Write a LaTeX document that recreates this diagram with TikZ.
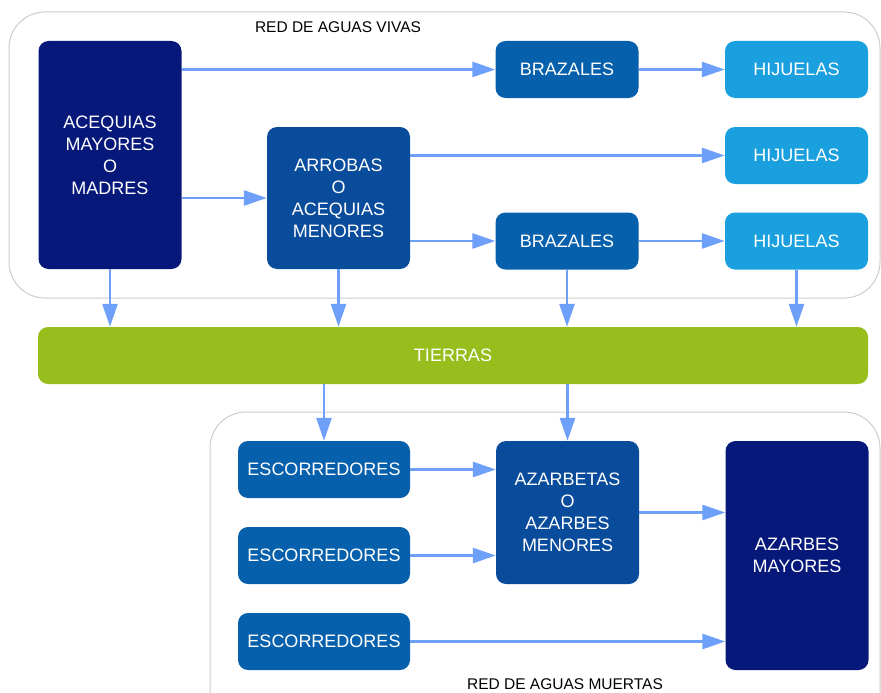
\documentclass[tikz,border=0pt]{standalone}
\usepackage{fontspec}
\setmainfont{Liberation Sans}
\usetikzlibrary{arrows.meta}

\definecolor{madre}{RGB}{6,24,122}
\definecolor{menor}{RGB}{10,76,156}
\definecolor{brazal}{RGB}{6,96,172}
\definecolor{hijuela}{RGB}{26,160,222}
\definecolor{tierra}{RGB}{152,190,30}
\definecolor{flecha}{RGB}{110,160,250}

\tikzset{%
  every canal/.style={
    rounded corners=10pt,
    text=white,
    align=center,
    inner sep=0pt,
    minimum width=143pt,
    minimum height=57pt,
    font=\fontsize{18}{22}\selectfont
  },
  red box/.style={
    draw=gray!40,
    line width=1pt,
    rounded corners=36pt
  },
  red label/.style={
    font=\fontsize{15.5}{18}\selectfont
  },
  flow/.style={
    ->,
    draw=flecha,
    line width=2.7pt
  },
}

\begin{document}
\begin{tikzpicture}[x=1pt, y=-1pt, >={Triangle[length=23pt, width=15pt]}]

    \useasboundingbox (0,0) rectangle (881,693);

    % redes de aguas vivas y muertas
    \draw [red box] (9,12) rectangle (880,298);
    \draw [red box] (210,412) rectangle (880,730);
    \node [red label] (vivas) at (338,27) {RED DE AGUAS VIVAS};
    \node [red label] (muertas) at (565,684) {RED DE AGUAS MUERTAS};

    \node [every canal, fill=madre, minimum height=228pt] (madres) at (110,155)
      {ACEQUIAS\\MAYORES\\O\\MADRES};
    \node [every canal, fill=menor, minimum height=142pt] (arrobas) at (338.5,198)
      {ARROBAS\\O\\ACEQUIAS\\MENORES};

    \foreach \y [count=\i] in {69.5,241}
      \node [every canal, fill=brazal] (brazales-\i) at (567,\y) {BRAZALES};

    \foreach \y [count=\i] in {69.5,155.5,241}
      \node [every canal, fill=hijuela] (hijuelas-\i) at (796.5,\y) {HIJUELAS};

    \node [every canal, fill=tierra, minimum width=830pt] (tierras) at (453,355.5) {TIERRAS};

    \foreach \y [count=\i] in {469.5,555.5,641.5}
      \node [every canal, fill=brazal, minimum width=172pt] (escorredores-\i) at (324,\y)
        {ESCORREDORES};

    \node [every canal, fill=menor, minimum height=143pt] (azarbetas) at (567.5,512.5)
      {AZARBETAS\\O\\AZARBES\\MENORES};
    \node [every canal, fill=madre, minimum height=229pt] (azarbes) at (797,555.5)
      {AZARBES\\MAYORES};

    % aguas vivas
    \draw [flow] (madres.east |- brazales-1.west) -- (brazales-1.west);
    \draw [flow] (madres.east |- arrobas.west) -- (arrobas.west);
    \draw [flow] (arrobas.east |- hijuelas-2.west) -- (hijuelas-2.west);
    \draw [flow] (arrobas.east |- brazales-2.west) -- (brazales-2.west);

    \foreach \i in {1,2}
      \draw [flow] (brazales-\i.east) -- (brazales-\i.east -| hijuelas-\i.west);

    \foreach \n in {madres, arrobas, brazales-2, hijuelas-3}
      \draw [flow] (\n.south) -- (\n.south |- tierras.north);

    % aguas muertas
    \foreach \n in {escorredores-1, azarbetas}
      \draw [flow] (tierras.south -| \n.north) -- (\n.north);

    \foreach \i in {1,2}
      \draw [flow] (escorredores-\i.east) -- (escorredores-\i.east -| azarbetas.west);

    \draw [flow] (escorredores-3.east) -- (escorredores-3.east -| azarbes.west);
    \draw [flow] (azarbetas.east) -- (azarbetas.east -| azarbes.west);

\end{tikzpicture}
\end{document}
